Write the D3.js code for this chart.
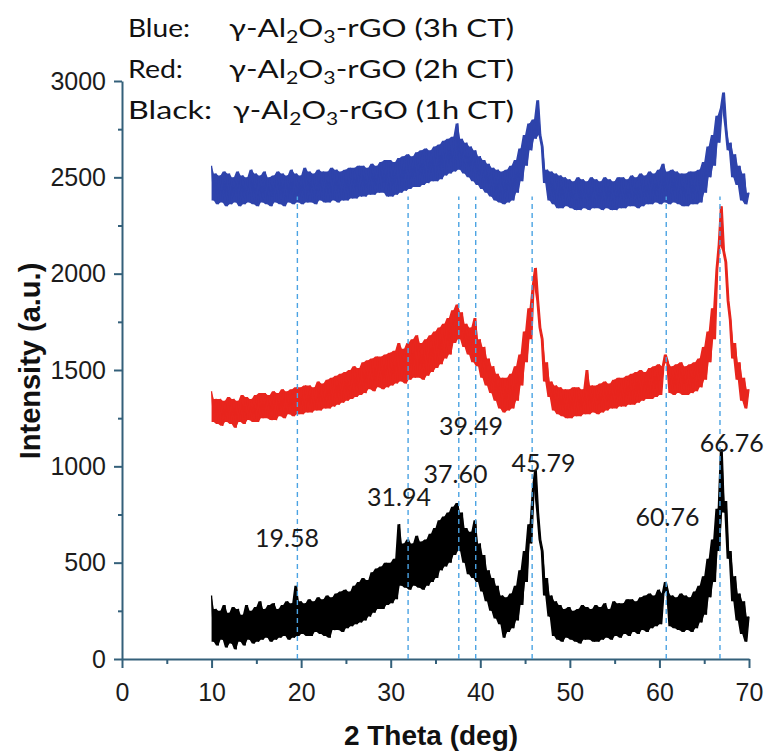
<!DOCTYPE html>
<html>
<head>
<meta charset="utf-8">
<script src="https://cdn.jsdelivr.net/npm/d3@7"></script>
<style>
  body { margin: 0; background: #fff; }
  figure { margin: 0; }
  svg { display: block; }
</style>
</head>
<body>
<figure id="xrd"></figure>
<script>
// scan grid: 10 to 70 deg, one reading every 0.25 deg
var angles = d3.range(0, 241).map(function(i) { return 10 + i * 0.25; });

// 1h CT
var black = [
  330, 90, 260, 70,   250, 100, 280, 60,   240, 80, 270, 50,   260, 90, 230, 70,
  280, 100, 250, 80,  270, 90, 300, 100,   260, 110, 280, 90,  290, 100, 260, 110,
  280, 120, 300, 100, 290, 110, 380, 120,  300, 130, 290, 120, 310, 120, 300, 140,
  320, 130, 310, 120, 330, 110, 320, 150,  340, 150, 350, 140, 360, 160, 350, 170,
  380, 180, 400, 190, 420, 200, 410, 220,  450, 240, 470, 260, 480, 260, 500, 280,
  500, 290, 520, 310, 700, 380, 600, 370,  620, 360, 600, 380, 640, 370, 610, 360,
  620, 380, 650, 400, 680, 420, 720, 460,  740, 480, 760, 500, 790, 540, 810, 560,
  760, 500, 680, 440, 660, 420, 720, 400,  600, 350, 540, 300, 460, 250, 420, 210,
  380, 180, 330, 110, 320, 140, 340, 160,  380, 200, 460, 280, 560, 400, 700, 600,
  880, 980, 760, 620, 560, 330, 420, 220,  330, 120, 300, 100, 280, 90, 260, 110,
  270, 100, 250, 90,  260, 80, 280, 100,   270, 100, 260, 90,  280, 90, 270, 100,
  290, 110, 260, 100, 300, 120, 290, 110,  290, 130, 310, 120, 310, 140, 300, 130,
  320, 150, 330, 140, 340, 160, 330, 170,  360, 180, 340, 400, 350, 170, 330, 160,
  320, 150, 340, 140, 330, 150, 320, 140,  350, 160, 380, 190, 430, 230, 520, 320,
  620, 400, 780, 560, 1090, 760, 820, 520, 560, 300, 430, 200, 340, 130, 300, 90,
  220
];

// 2h CT
var red = [
  1390, 1230, 1350, 1220, 1350, 1210, 1340, 1230, 1360, 1220, 1350, 1200, 1340, 1230, 1370, 1220,
  1360, 1240, 1350, 1230, 1370, 1230, 1380, 1250, 1380, 1250, 1370, 1240, 1390, 1240, 1380, 1260,
  1400, 1250, 1390, 1270, 1400, 1260, 1410, 1270, 1410, 1270, 1420, 1280, 1420, 1280, 1410, 1290,
  1440, 1290, 1430, 1300, 1450, 1300, 1460, 1310, 1470, 1320, 1480, 1330, 1490, 1340, 1500, 1350,
  1520, 1360, 1510, 1370, 1540, 1380, 1550, 1400, 1560, 1390, 1570, 1410, 1570, 1400, 1580, 1410,
  1590, 1420, 1600, 1430, 1640, 1440, 1610, 1430, 1640, 1450, 1660, 1460, 1680, 1460, 1640, 1450,
  1660, 1470, 1680, 1490, 1700, 1510, 1720, 1530, 1740, 1560, 1770, 1580, 1810, 1640, 1840, 1660,
  1800, 1620, 1740, 1580, 1720, 1540, 1770, 1520, 1660, 1460, 1620, 1420, 1560, 1380, 1520, 1340,
  1480, 1300, 1460, 1280, 1460, 1290, 1480, 1300, 1520, 1340, 1580, 1420, 1700, 1540, 1820, 1660,
  1940, 2030, 1860, 1720, 1660, 1440, 1540, 1360, 1440, 1290, 1420, 1270, 1410, 1260, 1400, 1250,
  1400, 1250, 1410, 1260, 1410, 1260, 1400, 1270, 1500, 1270, 1420, 1280, 1420, 1270, 1430, 1280,
  1440, 1290, 1430, 1300, 1450, 1300, 1460, 1310, 1460, 1310, 1470, 1320, 1480, 1320, 1490, 1330,
  1500, 1340, 1490, 1350, 1510, 1350, 1520, 1360, 1530, 1370, 1520, 1580, 1540, 1380, 1520, 1370,
  1530, 1380, 1540, 1370, 1520, 1370, 1530, 1380, 1540, 1390, 1560, 1410, 1620, 1450, 1700, 1540,
  1820, 1660, 2020, 2150, 2350, 2120, 2060, 1860, 1760, 1560, 1640, 1450, 1540, 1340, 1460, 1300,
  1400
];

// 3h CT
var blue = [
  2560, 2380, 2520, 2360, 2510, 2370, 2530, 2350, 2520, 2360, 2500, 2370, 2530, 2350, 2510, 2360,
  2500, 2370, 2540, 2360, 2520, 2350, 2510, 2370, 2530, 2360, 2500, 2350, 2510, 2370, 2530, 2360,
  2520, 2350, 2510, 2370, 2540, 2360, 2520, 2370, 2510, 2360, 2550, 2370, 2530, 2370, 2520, 2360,
  2540, 2380, 2530, 2370, 2530, 2370, 2550, 2380, 2540, 2370, 2530, 2380, 2540, 2380, 2550, 2390,
  2550, 2390, 2560, 2400, 2560, 2400, 2550, 2410, 2570, 2410, 2560, 2420, 2580, 2420, 2590, 2400,
  2590, 2400, 2580, 2410, 2600, 2420, 2610, 2430, 2620, 2440, 2610, 2450, 2630, 2450, 2640, 2460,
  2650, 2470, 2640, 2480, 2660, 2480, 2670, 2490, 2690, 2510, 2700, 2520, 2710, 2530, 2780, 2540,
  2700, 2520, 2680, 2500, 2660, 2480, 2640, 2460, 2610, 2440, 2590, 2420, 2570, 2400, 2550, 2380,
  2540, 2370, 2530, 2360, 2540, 2370, 2560, 2380, 2590, 2420, 2650, 2480, 2720, 2560, 2780, 2640,
  2800, 2700, 2900, 2720, 2660, 2470, 2540, 2380, 2530, 2360, 2520, 2340, 2510, 2340, 2500, 2350,
  2490, 2340, 2480, 2330, 2500, 2330, 2490, 2340, 2480, 2330, 2500, 2340, 2490, 2340, 2480, 2330,
  2500, 2340, 2490, 2330, 2480, 2330, 2500, 2340, 2500, 2340, 2490, 2350, 2510, 2350, 2500, 2340,
  2520, 2350, 2510, 2360, 2530, 2360, 2520, 2370, 2540, 2360, 2570, 2370, 2530, 2360, 2540, 2370,
  2530, 2360, 2520, 2350, 2520, 2350, 2530, 2360, 2530, 2360, 2540, 2370, 2580, 2420, 2660, 2500,
  2720, 2560, 2820, 2680, 2860, 2940, 2760, 2640, 2680, 2500, 2620, 2460, 2560, 2380, 2520, 2360,
  2420
];

var xTicks = [0, 10, 20, 30, 40, 50, 60, 70];
var xMinor = [5, 15, 25, 35, 45, 55, 65];
var yTicks = [0, 500, 1000, 1500, 2000, 2500, 3000];
var yMinor = [250, 750, 1250, 1750, 2250, 2750];

var peaks = [19.58, 31.94, 37.60, 39.49, 45.79, 60.76, 66.76];
var peakText = ["19.58", "31.94", "37.60", "39.49", "45.79", "60.76", "66.76"];
// label anchor of each peak, in [2 theta, intensity]
var peakLabelAt = [[18.42, 628], [30.93, 841], [37.23, 960], [38.96, 1209], [47.06, 1017], [60.9, 737], [68.07, 1121]];

var legendNames = ["Blue:", "Red:", "Black:"];
var legendTimes = ["3h CT", "2h CT", "1h CT"];

var svg = d3.select('figure#xrd').append('svg')
    .attr('width', 767)
    .attr('height', 753);

var x = d3.scaleLinear().domain([0, 70]).range([122, 749]);
var y = d3.scaleLinear().domain([0, 3000]).range([659, 81]);

var axisColor = '#34607a';
var tickFont = '"Liberation Sans", Arial, sans-serif';

// data series: the noisy scan is filled between neighbouring readings
var band = d3.area()
    .x(function(d, i) { return x(angles[i]); })
    .y0(function(d, i, arr) { return y(Math.min(d, arr[Math.min(i + 1, arr.length - 1)])); })
    .y1(function(d, i, arr) { return y(Math.max(d, arr[Math.min(i + 1, arr.length - 1)])); });
var line = d3.line()
    .x(function(d, i) { return x(angles[i]); })
    .y(function(d) { return y(d); });

var series = [
  {values: black, color: '#000000'},
  {values: red, color: '#e8251d'},
  {values: blue, color: '#2e43ab'}
];

var dataSeries = svg.append('g').classed('data-series', true);
series.forEach(function(s) {
  dataSeries.append('path')
      .attr('d', band(s.values))
      .attr('fill', s.color);
  dataSeries.append('path')
      .attr('d', line(s.values))
      .attr('fill', 'none')
      .attr('stroke', s.color)
      .attr('stroke-width', 1.3)
      .attr('stroke-linejoin', 'bevel');
});

// axes
svg.append('g')
    .attr('transform', 'translate(0,659)')
    .call(d3.axisBottom(x).tickValues(xTicks).tickSize(9).tickSizeOuter(0).tickPadding(15).tickFormat(d3.format('d')));
svg.append('g')
    .classed('minor', true)
    .attr('transform', 'translate(0,659)')
    .call(d3.axisBottom(x).tickValues(xMinor).tickSize(5).tickFormat(''));

svg.append('g')
    .attr('transform', 'translate(122,0)')
    .call(d3.axisLeft(y).tickValues(yTicks).tickSize(8).tickSizeOuter(0).tickPadding(8).tickFormat(d3.format('d')));
svg.append('g')
    .classed('minor', true)
    .attr('transform', 'translate(122,0)')
    .call(d3.axisLeft(y).tickValues(yMinor).tickSize(4).tickFormat(''));

svg.selectAll('.minor .domain').remove();
svg.selectAll('.domain, .tick line')
    .attr('stroke', axisColor)
    .attr('stroke-width', 2);
svg.selectAll('.tick text')
    .attr('fill', '#1c1c1c')
    .style('font-family', tickFont)
    .style('font-size', '25px');

// axis titles
svg.append('text')
    .attr('x', 431)
    .attr('y', 745)
    .attr('text-anchor', 'middle')
    .style('font-family', tickFont)
    .style('font-weight', 'bold')
    .style('font-size', '28px')
    .attr('fill', '#111')
    .text('2 Theta (deg)');

svg.append('text')
    .attr('transform', 'translate(40,361) rotate(-90)')
    .attr('text-anchor', 'middle')
    .style('font-family', tickFont)
    .style('font-weight', 'bold')
    .style('font-size', '29px')
    .attr('fill', '#111')
    .text('Intensity (a.u.)');

// peak markers
svg.append('g')
    .selectAll('line')
    .data(peaks)
    .enter()
    .append('line')
    .attr('x1', function(d) { return x(d); })
    .attr('x2', function(d) { return x(d); })
    .attr('y1', y(0))
    .attr('y2', y(2400))
    .attr('stroke', '#4ba3e3')
    .attr('stroke-width', 1.4)
    .attr('stroke-dasharray', '5,4');

svg.append('g')
    .selectAll('text')
    .data(peakText)
    .enter()
    .append('text')
    .attr('x', function(d, i) { return x(peakLabelAt[i][0]); })
    .attr('y', function(d, i) { return y(peakLabelAt[i][1]); })
    .attr('dy', '0.36em')
    .attr('text-anchor', 'middle')
    .style('font-family', 'Lato, "Open Sans", sans-serif')
    .style('font-size', '25px')
    .attr('fill', '#1a1a1a')
    .text(function(d) { return d; });

// legend
var rowY = [37, 78, 119];
var nameLen = [62, 55, 84];
var formulaX = [229, 229, 233];
var legend = svg.append('g')
    .style('font-family', 'Lato, "Open Sans", sans-serif')
    .style('font-size', '25px')
    .attr('fill', '#111');

legendNames.forEach(function(name, i) {
  legend.append('text')
      .attr('x', 128)
      .attr('y', rowY[i])
      .attr('textLength', nameLen[i])
      .attr('lengthAdjust', 'spacingAndGlyphs')
      .text(name);

  var t = legend.append('text')
      .attr('x', formulaX[i])
      .attr('y', rowY[i])
      .attr('textLength', 514 - formulaX[i])
      .attr('lengthAdjust', 'spacingAndGlyphs');
  t.append('tspan').text('\u03b3-Al');
  t.append('tspan').attr('dy', 6).style('font-size', '17px').text('2');
  t.append('tspan').attr('dy', -6).text('O');
  t.append('tspan').attr('dy', 6).style('font-size', '17px').text('3');
  t.append('tspan').attr('dy', -6).text('-rGO (' + legendTimes[i] + ')');
});
</script>
</body>
</html>
